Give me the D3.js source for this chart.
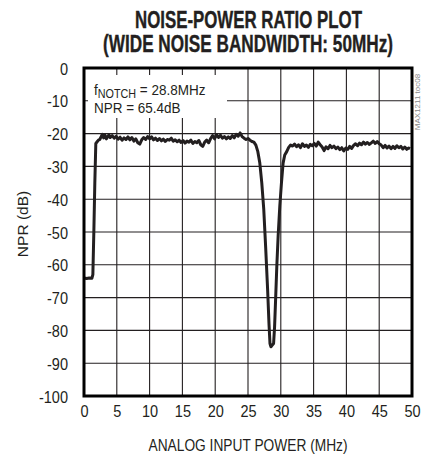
<!DOCTYPE html>
<html><head><meta charset="utf-8">
<script src="https://cdn.jsdelivr.net/npm/d3@7"></script>
<style>
html,body{margin:0;padding:0;background:#fff;}
svg{display:block;}
text{font-family:"Liberation Sans",Arial,sans-serif;fill:#231f20;}
</style></head>
<body>
<svg id="c" width="422" height="455"></svg>
<script>
const titleLines = ["NOISE-POWER RATIO PLOT", "(WIDE NOISE BANDWIDTH: 50MHz)"];
const xTicks = [0,5,10,15,20,25,30,35,40,45,50];
const yTicks = [0,-10,-20,-30,-40,-50,-60,-70,-80,-90,-100];
const xLabel = "ANALOG INPUT POWER (MHz)";
const yLabel = "NPR (dB)";
const noteNotch = ["f", "NOTCH", " = 28.8MHz"];
const noteNpr = "NPR = 65.4dB";
const watermark = "MAX1211 toc08";

const freqMHz = [0,0.4,0.8,1.2,1.35,1.5,1.65,1.8,2.0,2.2,2.4,2.6,2.8,3.0,3.2,3.4,3.6,3.8,4.0,4.3,4.6,4.9,5.2,5.5,5.8,6.1,6.4,6.7,7.0,7.3,7.6,7.9,8.2,8.5,8.8,9.1,9.4,9.7,10.0,10.3,10.6,10.9,11.2,11.5,11.8,12.1,12.4,12.7,13.0,13.3,13.6,13.9,14.2,14.5,14.8,15.1,15.4,15.7,16.0,16.3,16.6,16.9,17.2,17.5,17.8,18.1,18.4,18.7,19.0,19.3,19.6,19.9,20.2,20.5,20.8,21.1,21.4,21.7,22.0,22.3,22.6,22.9,23.2,23.5,23.8,24.1,24.4,24.7,25.0,25.3,25.6,25.9,26.2,26.5,26.8,27.1,27.4,27.7,28.0,28.2,28.35,28.5,28.7,28.9,29.05,29.2,29.4,29.6,29.85,30.1,30.35,30.6,30.9,31.2,31.5,31.8,32.1,32.4,32.7,33.0,33.3,33.6,33.9,34.2,34.5,34.8,35.1,35.4,35.7,36.0,36.3,36.6,36.9,37.2,37.5,37.8,38.1,38.4,38.7,39.0,39.3,39.6,39.9,40.2,40.5,40.8,41.1,41.4,41.7,42.0,42.3,42.6,42.9,43.2,43.5,43.8,44.1,44.4,44.7,45.0,45.3,45.6,45.9,46.2,46.5,46.8,47.1,47.4,47.7,48.0,48.3,48.6,48.9,49.2,49.5,49.7];
const nprDb = [-64,-64.2,-64,-64.1,-63,-50,-35,-23,-22.5,-22,-21.8,-21,-20.2,-21.3,-20.5,-21.6,-21,-20.4,-21.2,-20.6,-21.4,-20.8,-21.7,-21.1,-22,-21.3,-21.8,-21,-21.9,-21.2,-22.3,-21.6,-22.8,-23.2,-21.9,-21.2,-21.8,-20.9,-21.6,-21,-21.9,-21.4,-22.1,-21.5,-22.2,-21.7,-22.4,-21.8,-22,-21.4,-22.3,-21.9,-22.5,-22,-22.7,-22.1,-22.9,-22.3,-22.6,-22,-23,-22.4,-22.8,-22.1,-23.4,-23.9,-22.6,-22,-22.8,-21.5,-20.6,-21.6,-20.3,-21.2,-20.5,-21.4,-20.9,-21.6,-21,-21.5,-20.6,-21.3,-20.2,-20.8,-19.8,-20.9,-21.4,-21.8,-21.5,-22,-22.4,-22.6,-23.5,-25.5,-29,-35,-43,-55,-68,-78,-84,-85,-84.5,-84,-79,-71,-60,-51,-42,-35,-29,-26.5,-25.5,-24.2,-23.5,-23.8,-23.2,-24,-23.4,-24.3,-23.1,-23.9,-23.5,-24.2,-23.3,-23.7,-23,-23.8,-22.6,-23.4,-24.1,-25.2,-24,-24.6,-23.6,-24.3,-23.8,-24.6,-24.1,-24.9,-24.3,-25.3,-24.4,-24.8,-23.9,-24.5,-23.6,-23.1,-23.7,-22.9,-23.4,-22.6,-23.2,-22.7,-23.3,-22.8,-22.3,-23,-22.4,-23.1,-23.5,-24.3,-23.6,-24.4,-23.8,-24.6,-23.9,-24.5,-23.7,-24.3,-23.9,-24.7,-24.1,-24.8,-24.4,-24.6];

const svg = d3.select("#c");
const L = 84, R = 412, T = 68, B = 396;
const x = d3.scaleLinear().domain([0,50]).range([L,R]);
const y = d3.scaleLinear().domain([-100,0]).range([B,T]);

function ctext(parent, px, py, sx, rot){
  const g = parent.append("g").attr("transform",`translate(${px},${py})${rot?` rotate(${rot})`:""} scale(${sx},1)`);
  return g.append("text").attr("x",0).attr("y",0);
}

// title
const titlePos = [[248.5,28,227],[248,52,290]];
titleLines.forEach((s,i)=>{
  const [px,py,w] = titlePos[i];
  const t = ctext(svg, px, py, 1, 0).attr("text-anchor","middle").attr("font-size",24)
    .attr("font-weight","bold").style("stroke","#231f20").style("stroke-width",0.4).text(s);
  const nat = t.node().getComputedTextLength();
  d3.select(t.node().parentNode).attr("transform",`translate(${px},${py}) scale(${w/nat},1)`);
});

// grid
const g = svg.append("g");
g.selectAll("line.v").data(xTicks.slice(1,-1)).enter().append("line")
  .attr("x1",d=>x(d)).attr("x2",d=>x(d)).attr("y1",T).attr("y2",B)
  .attr("stroke","#231f20").attr("stroke-width",1.1);
g.selectAll("line.h").data(yTicks.slice(1,-1)).enter().append("line")
  .attr("y1",d=>y(d)).attr("y2",d=>y(d)).attr("x1",L).attr("x2",R)
  .attr("stroke","#231f20").attr("stroke-width",1.1);

// legend box
svg.append("rect").attr("x",88).attr("y",75).attr("width",139).attr("height",43).attr("fill","#fff");
const t1 = ctext(svg, 94, 95, 0.9).attr("font-size",15);
t1.append("tspan").text(noteNotch[0]);
t1.append("tspan").attr("dy",2.5).attr("font-size",12).text(noteNotch[1]);
t1.append("tspan").attr("dy",-2.5).text(noteNotch[2]);
ctext(svg, 94, 113, 0.9).attr("font-size",15).text(noteNpr);

// axes
const xa = d3.axisBottom(x).tickValues(xTicks).tickSize(0).tickFormat(d=>String(d));
const ya = d3.axisLeft(y).tickValues(yTicks).tickSize(0).tickFormat(d=>String(d));
const gx = svg.append("g").attr("transform",`translate(0,${B})`).call(xa);
const gy = svg.append("g").attr("transform",`translate(${L},0)`).call(ya);
[gx,gy].forEach(a=>{a.select(".domain").remove(); a.selectAll("text").remove();});
gx.selectAll(".tick").each(function(d){
  d3.select(this).append("g").attr("transform","translate(0,21) scale(0.88,1)")
    .append("text").attr("text-anchor","middle").attr("font-size",16.5).attr("fill","#231f20").text(String(d));
});
gy.selectAll(".tick").each(function(d){
  d3.select(this).append("g").attr("transform","translate(-16,6) scale(0.88,1)")
    .append("text").attr("text-anchor","end").attr("font-size",16.5).attr("fill","#231f20").text(String(d));
});

// data line
const line = d3.line().x((d,i)=>x(freqMHz[i])).y(d=>y(d));
svg.append("path").datum(nprDb).attr("d",line).attr("fill","none")
  .attr("stroke","#231f20").attr("stroke-width",3).attr("stroke-linejoin","round");

// border
svg.append("rect").attr("x",L).attr("y",T).attr("width",R-L).attr("height",B-T)
  .attr("fill","none").attr("stroke","#000").attr("stroke-width",3);

// labels
ctext(svg, 248, 451, 0.86).attr("text-anchor","middle").attr("font-size",16).text(xLabel);
ctext(svg, 28, 224, 1, -90).attr("text-anchor","middle").attr("font-size",15.5).text(yLabel);
ctext(svg, 420, 102, 1, -90).attr("text-anchor","middle").attr("font-size",8).style("fill","#888").text(watermark);
</script>
</body></html>
